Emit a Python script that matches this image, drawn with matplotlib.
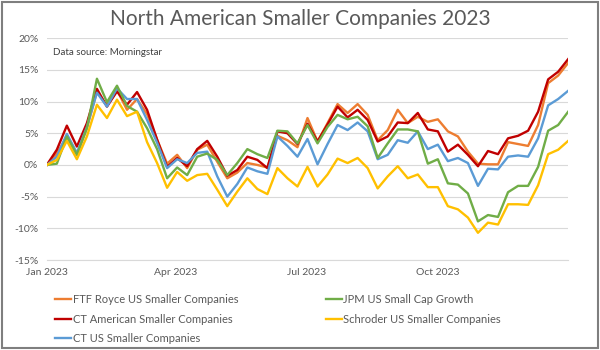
import numpy as np
import pandas as pd
import matplotlib
matplotlib.use("Agg")
import matplotlib.pyplot as plt
import matplotlib.dates as mdates
import matplotlib.ticker as ticker
from matplotlib.patches import Rectangle

plt.rcParams["font.family"] = ["Lato", "DejaVu Sans"]

# weekly cumulative returns (%) through 2023
dates = pd.date_range("2023-01-01", periods=53, freq="7D")

ftf_royce = [0, 1.8, 4.5, 1.6, 5.8, 11.6, 9.3, 11.8, 8.7, 10.4,
             8.0, 4.0, 0.2, 1.6, -0.5, 2.4, 3.2, 0.5, -2.1, -1.2,
             0.3, 0.0, -0.4, 4.6, 3.9, 2.8, 7.4, 3.7, 6.6, 9.6,
             8.2, 9.6, 7.9, 3.9, 5.5, 8.7, 6.6, 7.6, 6.8, 7.2,
             5.3, 4.5, 2.1, 0.2, 0.1, 0.1, 3.6, 3.3, 3.0, 6.3,
             12.9, 14.1, 16.1]
ct_american = [0, 2.4, 6.2, 2.9, 6.6, 12.0, 9.2, 11.6, 9.5, 11.5,
               8.7, 4.0, -0.3, 1.1, -0.2, 2.5, 3.8, 1.3, -1.7, -0.8,
               1.3, 0.8, -0.5, 5.3, 5.0, 3.3, 6.5, 3.7, 6.4, 9.2,
               7.5, 8.7, 7.1, 3.7, 4.5, 6.7, 6.6, 8.2, 5.6, 5.3,
               2.1, 3.2, 1.6, -0.2, 2.2, 1.7, 4.2, 4.6, 5.4, 8.4,
               13.5, 14.7, 16.7]
ct_us = [0, 1.3, 4.9, 1.9, 6.0, 11.4, 9.2, 12.1, 10.4, 10.4,
         7.1, 3.5, -0.5, 0.9, 0.3, 1.9, 2.1, -1.8, -5.0, -3.0,
         -0.4, -1.0, -1.4, 4.5, 3.0, 1.3, 4.1, 0.1, 3.3, 6.3,
         5.5, 6.7, 5.3, 0.9, 1.6, 3.9, 3.5, 5.3, 2.5, 3.2,
         0.6, 1.1, 0.3, -3.3, -0.6, -0.7, 1.3, 1.5, 1.3, 4.2,
         9.4, 10.4, 11.7]
jpm_growth = [0, 0.2, 4.5, 1.6, 5.8, 13.6, 9.9, 12.5, 9.3, 8.4,
              5.8, 2.5, -2.1, -0.4, -1.6, 1.3, 1.8, 0.8, -1.6, 0.3,
              2.5, 1.7, 1.1, 5.4, 5.3, 3.4, 6.3, 3.4, 6.0, 7.9,
              7.2, 7.6, 6.1, 1.1, 3.4, 5.6, 5.6, 5.3, 0.2, 0.9,
              -2.9, -3.1, -4.5, -8.9, -7.9, -8.2, -4.3, -3.3, -3.3, -0.3,
              5.4, 6.3, 8.4]
schroder = [0, 0.8, 3.8, 0.9, 4.5, 9.5, 7.4, 10.3, 7.7, 8.4,
            3.6, 0.3, -3.6, -1.1, -2.5, -1.6, -1.4, -3.9, -6.5, -4.2,
            -2.1, -3.8, -4.6, -0.5, -2.1, -3.4, -0.3, -3.4, -1.5, 1.0,
            0.3, 1.1, -0.5, -3.7, -1.8, -0.2, -2.1, -1.5, -3.5, -3.5,
            -6.5, -7.0, -8.3, -10.7, -9.1, -9.4, -6.2, -6.2, -6.3, -3.2,
            1.7, 2.4, 3.8]

series = [
    ("FTF Royce US Smaller Companies", ftf_royce, "#ED7D31"),
    ("CT American Smaller Companies", ct_american, "#C00000"),
    ("CT US Smaller Companies", ct_us, "#5B9BD5"),
    ("JPM US Small Cap Growth", jpm_growth, "#70AD47"),
    ("Schroder US Smaller Companies", schroder, "#FFC000"),
]

tick_dates = pd.to_datetime(["2023-01-01", "2023-04-01", "2023-07-01", "2023-10-01"])
text_col = "#595959"

fig = plt.figure(figsize=(6, 3.5), dpi=100)
ax = fig.add_axes([0.078, 0.257, 0.869, 0.634])

for name, vals, col in series:
    ax.plot(dates, vals, color=col, linewidth=1.7, label=name)

ax.set_xlim(dates[0], dates[-1])
ax.set_ylim(-15, 20)
ax.yaxis.set_major_locator(ticker.MultipleLocator(5))
ax.yaxis.set_major_formatter(ticker.FuncFormatter(lambda v, _: f"{int(v)}%"))
ax.set_xticks(tick_dates)
ax.xaxis.set_major_formatter(mdates.DateFormatter("%b %Y"))
ax.tick_params(length=0, labelsize=7.5, colors=text_col, pad=6)
ax.grid(True, axis="y", color="#D9D9D9", linewidth=0.8)
ax.set_axisbelow(True)
for side in ["top", "right", "left"]:
    ax.spines[side].set_visible(False)
ax.spines["bottom"].set_color("#D9D9D9")

ax.text(0.012, 0.935, "Data source: Morningstar", transform=ax.transAxes,
        fontsize=7, color="#404040", va="center")

fig.text(0.5, 0.945, "North American Smaller Companies 2023", ha="center",
         va="center", fontsize=15, color=text_col)

leg = fig.legend(loc="upper left", bbox_to_anchor=(0.085, 0.172), ncol=2,
                 frameon=False, fontsize=8, labelcolor=text_col,
                 handlelength=1.4, handletextpad=0.15, columnspacing=7.9,
                 labelspacing=0.75, borderaxespad=0)

fig.patches.append(Rectangle((0.003, 0.005), 0.993, 0.99, transform=fig.transFigure,
                             fill=False, edgecolor="#7F7F7F", linewidth=1.5))

fig.savefig("out.png", dpi=100)
